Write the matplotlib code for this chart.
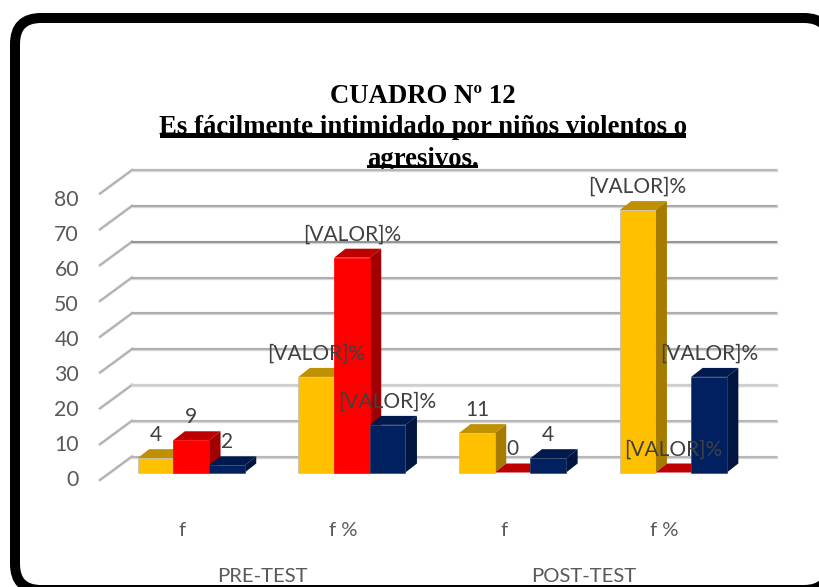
import matplotlib
matplotlib.use("Agg")
import matplotlib.pyplot as plt
from matplotlib.patches import FancyBboxPatch, Polygon, Rectangle

# data
groups = ["f", "f %", "f", "f %"]
tests = ["PRE-TEST", "POST-TEST"]
y_ticks = [0, 10, 20, 30, 40, 50, 60, 70, 80]
series_a = [4, 26.7, 11, 73.3]
series_b = [9, 60, 0, 0]
series_c = [2, 13.3, 4, 26.7]
grid_colors = ["#b4b4b4", "#b4b4b4", "#cfcfcf", "#aaaaaa", "#aaaaaa", "#aaaaaa", "#8e8e8e", "#a8a8a8", "#b4b4b4"]

series = [series_a, series_b, series_c]
faces = ["#FFC000", "#FF0000", "#002060"]
tops = ["#BF9000", "#BF0000", "#001A4D"]
sides = ["#A67C00", "#A00000", "#00153F"]
edges = ["#bdbdbd", "#FF0000", "#33466f"]

W, H = 820, 587
PX_X = 160.7  # px per group
PX_Y = 3.58  # px per value unit
X0, Y0 = 191.2, 472.5  # px of first group centre, value 0
BAR = 35.7 / PX_X
DEPTH_X, DEPTH_Y = 11.5 / PX_X, 9 / PX_Y
TXT_DY = 2.7 / PX_Y  # Lato sits a bit high when centred

fig = plt.figure(figsize=(W / 100, H / 100), dpi=100, facecolor="white")

# background figure-wide axes in pixel coords for frame and title
bg = fig.add_axes([0, 0, 1, 1], zorder=0)
bg.set_xlim(0, W)
bg.set_ylim(H, 0)
bg.axis("off")
bg.add_patch(FancyBboxPatch((15 + 26, 18 + 26), 815 - 52, 572 - 52,
                            boxstyle="round,pad=26,rounding_size=26",
                            fc="white", ec="black", lw=7.2, clip_on=True))

title_font = dict(family="Liberation Serif", weight="bold", size=19.3, color="black", ha="center", va="center")
bg.text(423, 96.5, "CUADRO Nº 12", **title_font)
bg.text(423, 127, "Es fácilmente intimidado por niños violentos o", **title_font)
bg.text(423, 159, "agresivos.", **title_font)
bg.add_patch(Rectangle((160, 132.7), 526, 5, fc="black", ec="none"))
bg.add_patch(Rectangle((367, 165), 111, 3, fc="black", ec="none"))
bg.add_patch(Rectangle((300, 168), 240, 8, fc="white", ec="none"))

# chart axes, value scale
left, right, bottom, top = 100, 776, 472.5, 170
ax = fig.add_axes([left / W, 1 - bottom / H, (right - left) / W, (bottom - top) / H], zorder=1)
ax.set_xlim((left - X0) / PX_X, (right - X0) / PX_X)
ax.set_ylim(0, (bottom - top) / PX_Y)
ax.axis("off")
ax.patch.set_alpha(0)

wall_front = (100 - X0) / PX_X
wall_back = (132 - X0) / PX_X
wall_end = (776 - X0) / PX_X
FRONT_DY, BACK_DY = -7.5 / PX_Y, 16 / PX_Y

for v, c in zip(y_ticks, grid_colors):
    ax.plot([wall_front, wall_back], [v + FRONT_DY, v + BACK_DY], color="#d4d4d4", lw=2.2, clip_on=False, zorder=1)
    ax.plot([wall_front, wall_back], [v + FRONT_DY, v + BACK_DY], color="#a6a6a6", lw=0.9, clip_on=False, zorder=1.1)
    ax.plot([wall_back, wall_end], [v + BACK_DY, v + BACK_DY], color="#d6d6d6", lw=2.4, clip_on=False, zorder=1)
    ax.plot([wall_back, wall_end], [v + BACK_DY, v + BACK_DY], color=c, lw=1.3, clip_on=False, zorder=1.1)
    ax.text(wall_front - 21 / PX_X, v * 0.978 - 1.26 - TXT_DY, str(v), ha="right", va="center",
            family="Lato", fontsize=15.3, color="#595959", clip_on=False)

z = 3
for s, vals in enumerate(series):
    for g, v in enumerate(vals):
        x = g + (s - 1.5) * BAR
        # top and side faces first, then the front
        ax.add_patch(Polygon([(x, v), (x + DEPTH_X, v + DEPTH_Y), (x + BAR + DEPTH_X, v + DEPTH_Y), (x + BAR, v)],
                             fc=tops[s], ec="none", clip_on=False, zorder=z + g * 3))
        ax.add_patch(Polygon([(x + BAR, 0), (x + BAR + DEPTH_X, DEPTH_Y), (x + BAR + DEPTH_X, v + DEPTH_Y), (x + BAR, v)],
                             fc=sides[s], ec="none", clip_on=False, zorder=z + g * 3))
        if v > 0:
            ax.bar(x, v, BAR, align="edge", color=faces[s], edgecolor=edges[s], linewidth=0.5,
                   clip_on=False, zorder=z + g * 3 + 0.5)
    z += 0.1

for s, vals in enumerate(series):
    for g, v in enumerate(vals):
        x = g + (s - 1) * BAR
        label = str(v) if g % 2 == 0 else "[VALOR]%"
        ax.text(x, v + 26 / PX_Y - TXT_DY, label, ha="center", va="center", family="Lato",
                fontsize=15, color="#404040", clip_on=False, zorder=30)

for g, name in enumerate(groups):
    ax.text(g - 9 / PX_X, -55 / PX_Y - TXT_DY, name, ha="center", va="center", family="Lato",
            fontsize=14.6, color="#595959", clip_on=False)
for i, name in enumerate(tests):
    ax.text(0.5 + 2 * i - 9 / PX_X, -101 / PX_Y - TXT_DY, name, ha="center", va="center", family="Lato",
            fontsize=14.6, color="#595959", clip_on=False)

plt.savefig("out.png", dpi=100)
